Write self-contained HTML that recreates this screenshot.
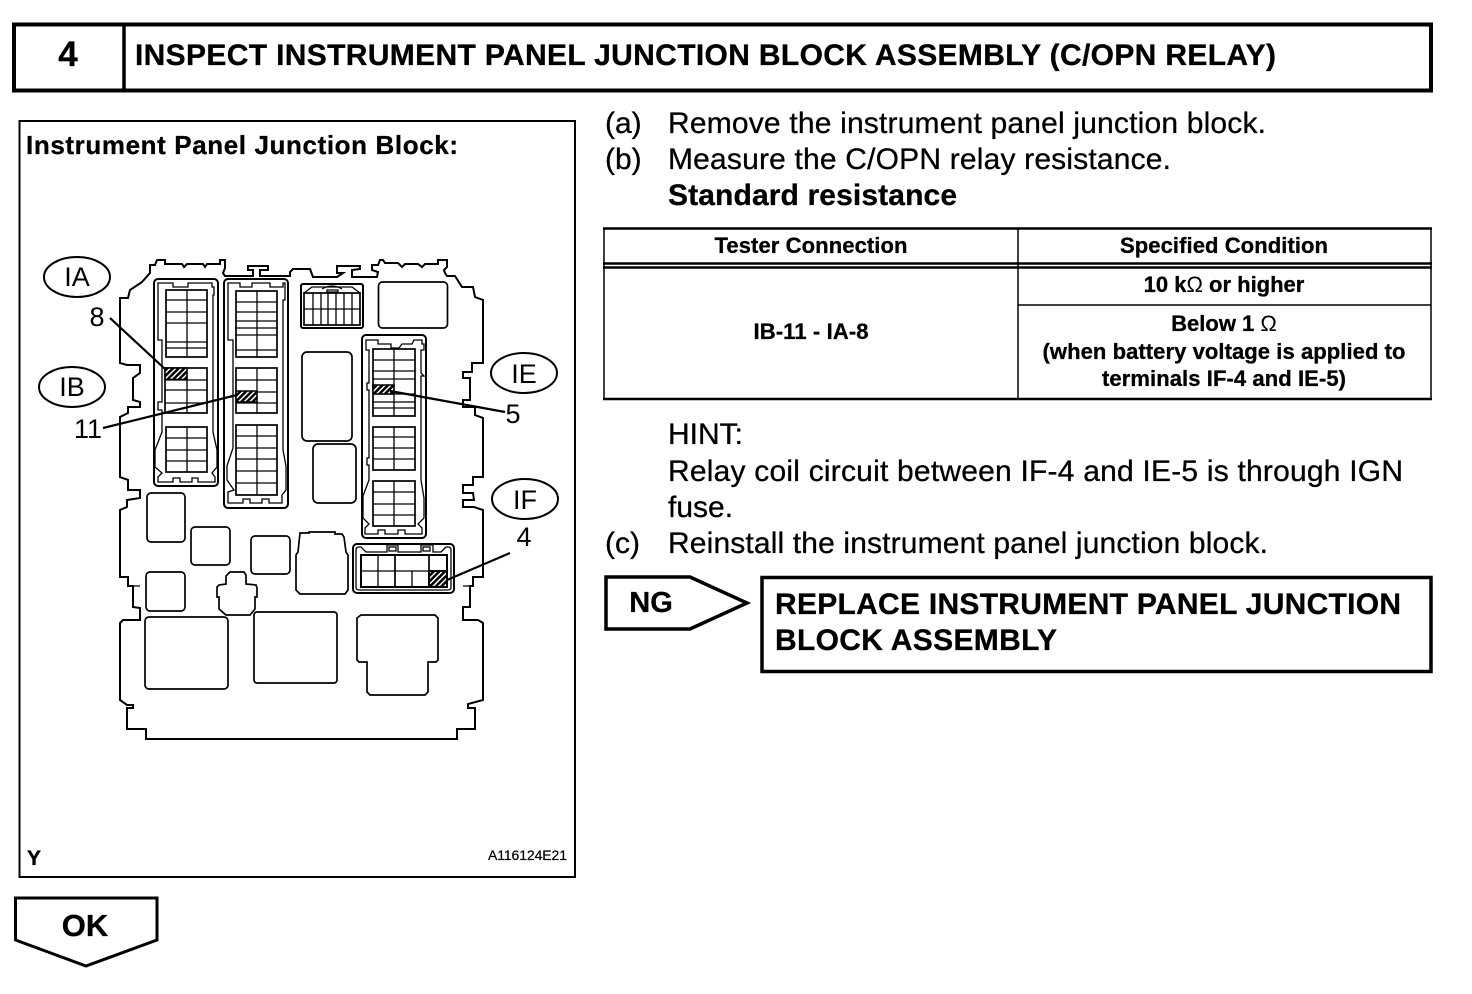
<!DOCTYPE html>
<html><head><meta charset="utf-8"><style>
html,body{margin:0;padding:0;background:#fff}
svg{display:block}
text{font-family:"Liberation Sans",Arial,sans-serif;fill:#000}
.b{font-weight:bold;stroke:#000;stroke-width:.3px}
.t{font-size:30px;stroke:#000;stroke-width:.3px}
.h{font-size:22px;font-weight:bold;text-anchor:middle;stroke:#000;stroke-width:.3px}
.o{font-weight:normal;stroke:none}
.l{fill:none;stroke:#000;stroke-width:1.3}
.m{fill:none;stroke:#000;stroke-width:1.7}
.k{fill:none;stroke:#000;stroke-width:2}
.w{fill:#fff;stroke:#000;stroke-width:1.7}
</style></head><body>
<svg width="1472" height="994" viewBox="0 0 1472 994" xmlns="http://www.w3.org/2000/svg">
<defs><pattern id="hz" width="4" height="4" patternUnits="userSpaceOnUse" patternTransform="rotate(45)"><rect width="4" height="4" fill="#000"/><rect width="1.5" height="4" fill="#fff"/></pattern></defs>
<rect x="14" y="24.500" width="1417" height="66" fill="none" stroke="#000" stroke-width="4"/>
<path d="M124 25V90" stroke="#000" stroke-width="3.500"/>
<text x="68" y="66" class="b" font-size="35" text-anchor="middle">4</text>
<text x="135" y="65" class="b" font-size="30" textLength="1141" lengthAdjust="spacing">INSPECT INSTRUMENT PANEL JUNCTION BLOCK ASSEMBLY (C/OPN RELAY)</text>
<rect x="19.500" y="121" width="555.500" height="756" fill="none" stroke="#000" stroke-width="2"/>
<text x="26" y="154" class="b" font-size="26" textLength="432" lengthAdjust="spacing">Instrument Panel Junction Block:</text>
<text x="27" y="865" class="b" font-size="21">Y</text>
<text x="488" y="860" font-size="14" stroke="#000" stroke-width=".2" textLength="79" lengthAdjust="spacing">A116124E21</text>

<!-- housing outline -->
<path class="k" d="M150 273V265H155L157 260H165V264H182L184 267 187 264H203L205 267 207 264H220V260H225V268L223 273 225 276H253V270H248V266H268V270H260V276H290V272L293 269H310L313 277H337L343 273H337V266H360V269L352 270V277H377L378 272 372 270V265H378L380 260H383L385 263H398L402 267 405 264H418L422 267 425 264H438V260H447V267L444 270 445 273 447 276H455L462 287H473L475 297 483 300V363H472V372H463V378H470V400H463V407H475V415L483 418V477H473V485H463V493H473L474 500H463V507H474L483 510V577H473V586H470V607H463V620H478L483 623V700L468 704V708H475V729H457V739H146V729H127V708H133V705H127L120 700V623L123 620H140V608L133 607V586H128V577H120V510L127 507V500L140 498V490H128V480L120 477V417L128 413V407H140V402L133 400V378L140 373V365H127L120 363V298H128L130 290 142 282 150 273Z"/>
<path class="l" d="M133 586H140M463 586H470"/>

<!-- IA block -->
<rect class="k" x="154" y="279" width="64" height="207" rx="4"/>
<path class="l" d="M158 283H173V287H188V283H212V287H214V295H213V380H213V432L217 450V467L212 473 215 477V482H198V478H192V482H180V478H173V482H158V477L162 473 155 467V450L162 432V410H158V402H162V340H158V295H158Z"/>
<rect class="m" x="166" y="290" width="41" height="67" fill="#fff"/>
<path class="l" d="M187 290V357M166 300H207M166 312H207M166 323H207M166 342H207M166 348H207"/>
<rect class="w" x="165" y="368" width="42" height="45"/>
<path class="l" d="M187 368V413M165 380H207M165 390H207M165 403H207"/>
<rect x="165" y="368" width="22" height="11.500" fill="url(#hz)" stroke="#000" stroke-width="1.500"/>
<rect class="w" x="166" y="427" width="41" height="45"/>
<path class="l" d="M187 427V472M166 438H207M166 450H207M166 461H207"/>

<!-- IB block -->
<rect class="k" x="224" y="279" width="64" height="229" rx="4"/>
<path class="l" d="M228 283H240V287H252V283H270V287H283V283 H285V300H283V450L286 466V490L282 495V503H269V499H262V503H250V499H243V503H228V492L234 490 227 480V466L233 448V340H228V295H228Z"/>
<rect class="w" x="236" y="291" width="41" height="66"/>
<path class="l" d="M257 291V357M236 302H277M236 312H277M236 321H277M236 328H277M236 335H277M236 350H277"/>
<rect class="w" x="236" y="368" width="41" height="45"/>
<path class="l" d="M257 368V413M236 380H277M236 392H277M236 403H277"/>
<rect x="236" y="391" width="21" height="11" fill="url(#hz)" stroke="#000" stroke-width="1.500"/>
<rect class="w" x="236" y="425" width="41" height="70"/>
<path class="l" d="M257 425V495M236 436H277M236 448H277M236 459H277M236 471H277M236 483H277"/>

<!-- top small connector -->
<rect class="k" x="301" y="284" width="62" height="44" rx="2"/>
<path class="l" d="M304 293L312 287H352L360 293M322 289Q332 283 342 289M327 290H338V292H327Z"/>
<rect class="w" x="304" y="293" width="56" height="32"/>
<path class="l" d="M313 293V325M321 293V325M328 293V325M336 293V325M344 293V325M352 293V325M304 309H360"/>
<rect class="m" x="378.500" y="282" width="69" height="46" rx="4"/>
<rect class="m" x="302" y="352" width="50" height="89" rx="5"/>
<rect class="m" x="313" y="444" width="43" height="59" rx="5"/>

<!-- IE block -->
<rect class="k" x="362" y="335" width="64" height="203" rx="4"/>
<path class="l" d="M366 340H378V344H391V348H399L402 344H412L414 340H422V344H424V350H421V373L424 376H421V480L424 498V518L418 524 422 528V534H405V530H398V534H385V530H378V534H365V528L369 524 363 518V496L369 480V465H367V458H369V390H367V383H369V350H366Z"/>
<rect class="w" x="373" y="349" width="42" height="67"/>
<path class="l" d="M394 349V416M373 360H415M373 371H415M373 379H415M373 394H415M373 402H415M373 408H415"/>
<rect x="373" y="385" width="21" height="9" fill="url(#hz)" stroke="#000" stroke-width="1.500"/>
<rect class="w" x="373" y="427" width="42" height="43"/>
<path class="l" d="M394 427V470M373 437H415M373 448H415M373 459H415"/>
<rect class="w" x="373" y="481" width="42" height="45"/>
<path class="l" d="M394 481V526M373 492H415M373 504H415M373 515H415"/>

<!-- IF block -->
<rect class="k" x="353" y="544" width="101" height="49" rx="4"/>
<path class="l" d="M356 550Q356 547 359 547H361L366 552H387V545H398V552H421V545H433V552H441L446 547H448Q451 547 451 550V587Q451 590 448 590H359Q356 590 356 587Z"/>
<rect class="l" x="389" y="547" width="7" height="4"/>
<rect class="l" x="423" y="547" width="7" height="4"/>
<rect class="k" x="361" y="555" width="86" height="32" fill="#fff"/>
<path class="l" d="M361 571H447M378 555V587M412 571V587"/>
<path class="m" d="M395 555V587M429 555V571"/>
<rect x="429" y="571" width="18" height="16" fill="url(#hz)" stroke="#000" stroke-width="2"/>

<!-- lower parts -->
<rect class="m" x="147" y="493" width="38" height="49" rx="4"/>
<rect class="m" x="191" y="527" width="39" height="38" rx="4"/>
<rect class="m" x="251" y="536" width="39" height="38" rx="4"/>
<rect class="m" x="146" y="572" width="39" height="39" rx="4"/>
<path class="m" d="M300 533H309V532H335V534H342L344 537 346 552 348 555V590L345 594H300L296 590V555L298 552Z"/>
<path class="m" d="M230 572H244L246 575V584 L256 585 257 588V597H255V609L250 615H226L219 609V597H217V587L219 585 226 584V576Z"/>
<rect class="m" x="145" y="617" width="83" height="72" rx="4"/>
<rect class="m" x="254" y="612" width="83" height="71" rx="3"/>
<path class="m" d="M361 615H435L438 618V660L436 662H428V692L425 695H370L367 692V662H359L357 660V618Z"/>

<!-- leaders -->
<path stroke="#000" stroke-width="2.200" fill="none" d="M110 318L165 369M103 428L237 395M390 391L505 412M510 553L447 580"/>
<g fill="#fff" stroke="#000" stroke-width="2">
<ellipse cx="77" cy="277" rx="33" ry="20"/><ellipse cx="72" cy="387" rx="33" ry="20"/>
<ellipse cx="524" cy="373" rx="33" ry="20"/><ellipse cx="525" cy="499" rx="33" ry="20"/>
</g>
<g font-size="27" text-anchor="middle">
<text x="77" y="286">IA</text><text x="72" y="396">IB</text><text x="524" y="383">IE</text><text x="525" y="509">IF</text>
<text x="97" y="326">8</text><text x="88" y="438">11</text><text x="513" y="423">5</text><text x="524" y="546">4</text>
</g>

<!-- OK arrow -->
<path d="M15.500 898H157V940L86 966 15.500 940Z" fill="#fff" stroke="#000" stroke-width="3"/>
<text x="85" y="936" class="b" font-size="31" text-anchor="middle">OK</text>

<!-- right text -->
<g class="t">
<text x="605" y="133">(a)</text><text x="668" y="133" textLength="598" lengthAdjust="spacing">Remove the instrument panel junction block.</text>
<text x="605" y="169">(b)</text><text x="668" y="169" textLength="503" lengthAdjust="spacing">Measure the C/OPN relay resistance.</text>
<text x="668" y="444">HINT:</text>
<text x="668" y="481" textLength="735" lengthAdjust="spacing">Relay coil circuit between IF-4 and IE-5 is through IGN</text>
<text x="668" y="517">fuse.</text>
<text x="605" y="553">(c)</text><text x="668" y="553" textLength="600" lengthAdjust="spacing">Reinstall the instrument panel junction block.</text>
</g>
<text x="668" y="205" class="b" font-size="30" textLength="289" lengthAdjust="spacing">Standard resistance</text>

<!-- table -->
<g stroke="#000" fill="none">
<path stroke-width="2.500" d="M603 228.500H1432M603 263.500H1432M603 267.500H1432M603 399H1432"/>
<path stroke-width="1.500" d="M604 228V399M1018 228V399M1431 228V399M1018 305H1431"/>
</g>
<text x="811" y="253" class="h" textLength="193">Tester Connection</text>
<text x="1224" y="253" class="h" textLength="208">Specified Condition</text>
<text x="1224" y="292" class="h">10 k<tspan class="o">Ω</tspan> or higher</text>
<text x="811" y="339" class="h" textLength="115">IB-11 - IA-8</text>
<text x="1224" y="331" class="h">Below 1 <tspan class="o">Ω</tspan></text>
<text x="1224" y="359" class="h" textLength="363">(when battery voltage is applied to</text>
<text x="1224" y="386" class="h" textLength="244">terminals IF-4 and IE-5)</text>

<!-- NG -->
<path d="M606 577H690L747 603 690 629H606Z" fill="#fff" stroke="#000" stroke-width="3.500"/>
<text x="651" y="612" class="b" font-size="29" text-anchor="middle">NG</text>
<rect x="762" y="577.500" width="669" height="94" fill="#fff" stroke="#000" stroke-width="3.500"/>
<text x="775" y="614" class="b" font-size="30" textLength="626" lengthAdjust="spacing">REPLACE INSTRUMENT PANEL JUNCTION</text>
<text x="775" y="650" class="b" font-size="30" textLength="282" lengthAdjust="spacing">BLOCK ASSEMBLY</text>
</svg>
</body></html>
